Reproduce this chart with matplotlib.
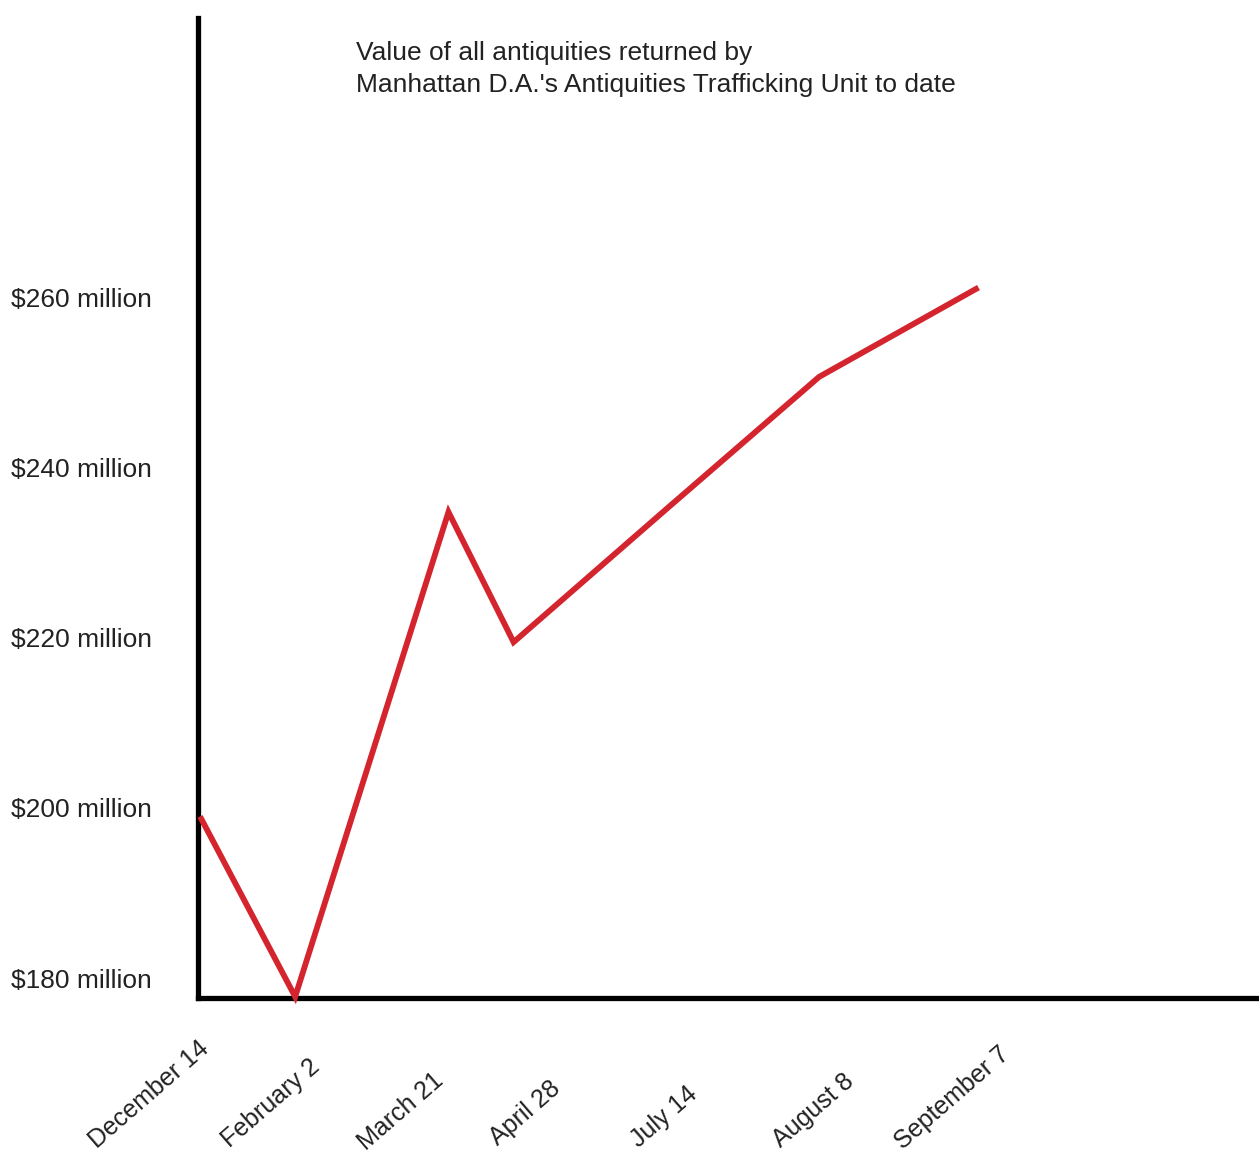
import matplotlib.pyplot as plt

plt.rcParams['font.family'] = ['Liberation Sans', 'DejaVu Sans']

# datos
dates = ["December 14", "February 2", "March 21", "April 28",
         "July 14", "August 8", "September 7"]
point_x = [2, 97, 250, 315, 467, 620, 779]
values = [199.0, 177.8, 234.8, 219.5, 235.1, 250.7, 261.2]

yticks = [180, 200, 220, 240, 260]
ytick_labels = [r"\$%d million" % v for v in yticks]

# posicion de las etiquetas de fecha (x en datos, bajada en pixeles)
label_x = [12, 123, 246, 363, 500, 656, 811]
label_drop = [53, 71, 85, 93, 98, 85, 58]

fig = plt.figure(figsize=(12.59, 11.54), dpi=100)
ax = fig.add_axes([198/1259, 1 - 998/1154, 1 - 198/1259, (998 - 18)/1154])

ax.plot(point_x, values, color="#d4252f", lw=4.2, solid_joinstyle="miter",
        solid_capstyle="butt", clip_on=False, zorder=3)

ax.set_xlim(0, 1059)
ax.set_ylim(177.65, 292.9)

ax.set_yticks(yticks, ytick_labels)
ax.tick_params(axis="y", length=0, pad=33, labelsize=19, labelcolor="#222222")
ax.set_xticks([])

for s in ["top", "right"]:
    ax.spines[s].set_visible(False)
for s in ["left", "bottom"]:
    ax.spines[s].set_linewidth(3.8)
    ax.spines[s].set_color("black")
    ax.spines[s].set_capstyle("projecting")

for lab, x, dy in zip(dates, label_x, label_drop):
    ax.annotate(lab, xy=(x, 0), xycoords=("data", "axes fraction"),
                xytext=(0, -dy), textcoords="offset pixels",
                rotation=41, rotation_mode="anchor", ha="right",
                va="baseline", fontsize=18, color="#222222",
                annotation_clip=False)

fig.text(356/1259, 1 - 41/1154,
         "Value of all antiquities returned by\n"
         "Manhattan D.A.'s Antiquities Trafficking Unit to date",
         ha="left", va="top", fontsize=19, color="#222222", linespacing=1.4)

fig.savefig("out.png", dpi=100)
